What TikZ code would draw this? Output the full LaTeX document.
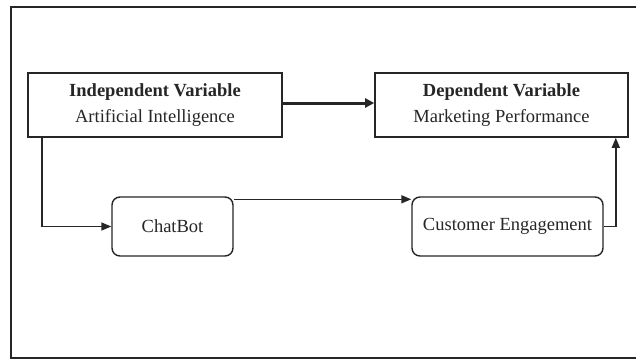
\documentclass[tikz,border=0pt]{standalone}
\usepackage{fontspec}
\setmainfont{Liberation Serif}
\usetikzlibrary{arrows.meta}
\tikzset{
  varbox/.style={draw=black!85, line width=1.6pt, align=center, inner sep=0pt,
    font=\fontsize{18.5}{26}\selectfont, text=black!85},
  medbox/.style={draw=black!85, line width=1.4pt, rounded corners=8pt, inner sep=0pt,
    font=\fontsize{18.5}{22}\selectfont, text=black!85},
  conn/.style={draw=black!85, line width=1.5pt, -{Triangle[length=10pt,width=8pt]}},
  thickconn/.style={draw=black!85, line width=3pt, -{Triangle[length=9pt,width=9pt]}},
}
\begin{document}
\begin{tikzpicture}[x=1pt,y=-1pt]
\useasboundingbox (0,0) rectangle (636,359);
\fill[white] (0,0) rectangle (636,359);
\draw[black!85, line width=2pt] (11,7) rectangle (645,358);
\node[varbox, minimum width=254pt, minimum height=64pt] (iv) at (155,105)
  {\textbf{Independent Variable}\\Artificial Intelligence};
\node[varbox, minimum width=253pt, minimum height=64pt] (dv) at (501.5,105)
  {\textbf{Dependent Variable}\\Marketing Performance};
\node[medbox, minimum width=121pt, minimum height=59pt] (cb) at (172.5,226.5) {ChatBot};
\node[medbox, minimum width=191pt, minimum height=59pt] (ce) at (507.5,226.5) {Customer Engagement};
\draw[thickconn] ([yshift=2pt]iv.east) -- ([yshift=2pt]dv.west);
\draw[conn] ([xshift=15pt]iv.south west) |- (cb.west);
\draw[conn] ([yshift=-3pt]cb.north east) -- ([yshift=-3pt]ce.north west);
\draw[conn] (ce.east) -| ([xshift=-13pt]dv.south east);
\end{tikzpicture}
\end{document}
